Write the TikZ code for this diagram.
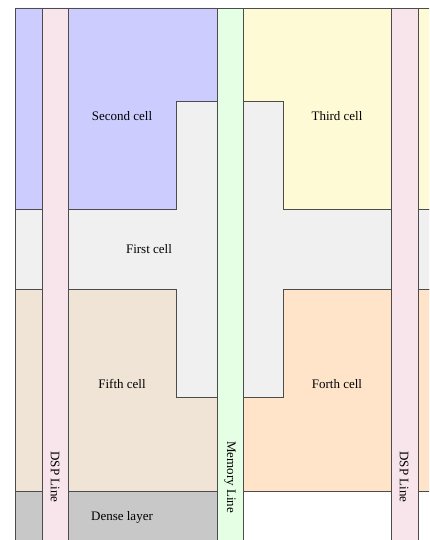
\documentclass[tikz,border=0pt]{standalone}
\usepackage{fontspec}
\setmainfont{Liberation Serif}
\definecolor{secondblue}{RGB}{204,204,255}
\definecolor{thirdyellow}{RGB}{255,250,214}
\definecolor{firstgray}{RGB}{240,240,240}
\definecolor{fifthbeige}{RGB}{240,228,214}
\definecolor{forthpeach}{RGB}{255,228,202}
\definecolor{densegray}{RGB}{200,200,200}
\definecolor{dsppink}{RGB}{248,228,235}
\definecolor{memgreen}{RGB}{229,255,229}
\begin{document}
\begin{tikzpicture}[x=1pt,y=-1pt,
  cellborder/.style={draw=black!70, line width=0.9pt},
  celltext/.style={font=\fontsize{13}{15}\selectfont},
  linetext/.style={font=\fontsize{13}{15}\selectfont, rotate=-90}]
\useasboundingbox (0,0) rectangle (429,540);
\begin{scope}
\clip (0,0) rectangle (429,540);
\filldraw[cellborder, fill=firstgray] (15,209) -- (176,209) -- (176,101) -- (283,101) -- (283,209) -- (440,209) -- (440,289) -- (283,289) -- (283,397) -- (176,397) -- (176,289) -- (15,289) -- cycle;
\filldraw[cellborder, fill=secondblue] (15,8) -- (217,8) -- (217,101) -- (176,101) -- (176,209) -- (15,209) -- cycle;
\filldraw[cellborder, fill=thirdyellow] (243,8) -- (440,8) -- (440,209) -- (283,209) -- (283,101) -- (243,101) -- cycle;
\filldraw[cellborder, fill=fifthbeige] (15,289) -- (176,289) -- (176,397) -- (217,397) -- (217,491) -- (15,491) -- cycle;
\filldraw[cellborder, fill=forthpeach] (243,397) -- (283,397) -- (283,289) -- (440,289) -- (440,491) -- (243,491) -- cycle;
\filldraw[cellborder, fill=densegray] (15,491) -- (217,491) -- (217,550) -- (15,550) -- cycle;
\filldraw[cellborder, fill=dsppink] (42,8) rectangle (68,550);
\filldraw[cellborder, fill=memgreen] (217,8) rectangle (243,550);
\filldraw[cellborder, fill=dsppink] (391,8) rectangle (418,550);
\end{scope}
\node[celltext] (second) at (122,116) {Second cell};
\node[celltext] (third) at (337,116) {Third cell};
\node[celltext] (first) at (149,249) {First cell};
\node[celltext] (fifth) at (122,384) {Fifth cell};
\node[celltext] (forth) at (337,384) {Forth cell};
\node[celltext] (dense) at (122,517) {Dense layer};
\node[linetext] (dspleft) at (55,477) {DSP Line};
\node[linetext] (memory) at (230,477) {Memory Line};
\node[linetext] (dspright) at (404,477) {DSP Line};
\end{tikzpicture}
\end{document}
